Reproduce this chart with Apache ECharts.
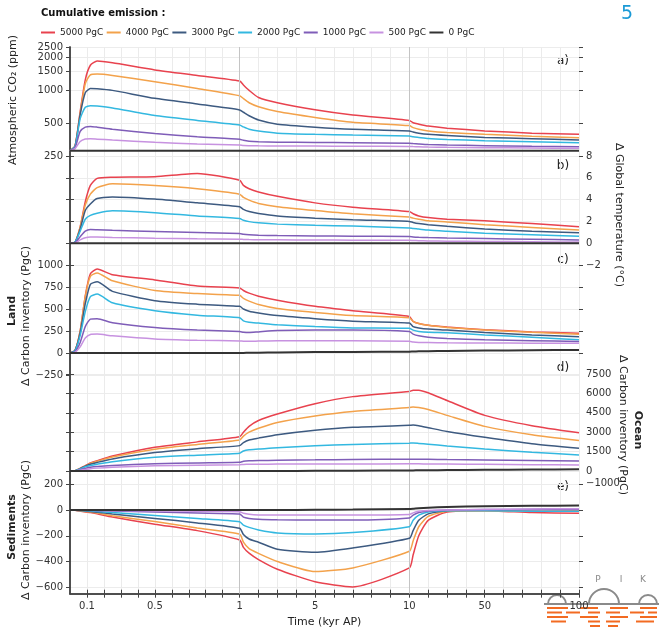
<!DOCTYPE html>
<html>
<head>
<meta charset="utf-8">
<script src="https://cdn.jsdelivr.net/npm/echarts@6/dist/echarts.min.js"></script>
<style>
html, body { margin: 0; padding: 0; background: #fff; }
#chart { width: 659px; height: 627px; }
</style>
</head>
<body>
<div id="chart"></div>
<script>
// time in kyr after present
var times = [0, 0.03, 0.06, 0.09, 0.12, 0.16, 0.25, 0.5, 0.75, 1, 1.2, 1.5, 2, 3, 5, 7, 10, 12, 15, 20, 30, 50, 75, 100];
var names = ['5000 PgC', '4000 PgC', '3000 PgC', '2000 PgC', '1000 PgC', '500 PgC', '0 PgC'];
var colors = ['#e8424e', '#f3a24b', '#3d5a80', '#33b8e0', '#7f5db8', '#c792e0', '#333333'];

var xTicks = [0.1, 0.2, 0.3, 0.4, 0.5, 0.6, 0.7, 0.8, 0.9, 1, 2, 3, 4, 5, 6, 7, 8, 9, 10, 20, 30, 40, 50, 60, 70, 80, 90, 100];
var xLabels = [0.1, 0.5, 1, 5, 10, 50, 100];

// a) atmospheric CO2 (ppm)
var co2_5000 = [280, 310, 640, 1250, 1700, 1860, 1790, 1540, 1370, 1218, 1120, 1000, 860, 770, 665, 595, 530, 505, 490, 470, 450, 425, 405, 395];
var co2_4000 = [280, 310, 620, 1150, 1390, 1410, 1370, 1200, 1040, 893, 840, 770, 708, 640, 565, 510, 475, 455, 440, 425, 410, 395, 380, 368];
var co2_3000 = [280, 308, 600, 950, 1040, 1035, 1000, 845, 750, 662, 630, 585, 535, 490, 460, 440, 425, 415, 405, 395, 385, 370, 360, 350];
var co2_2000 = [280, 305, 550, 700, 724, 718, 690, 587, 530, 481, 462, 440, 423, 405, 395, 389, 382, 375, 370, 362, 355, 345, 338, 331];
var co2_1000 = [280, 300, 420, 460, 467, 460, 440, 402, 375, 356, 348, 342, 338, 335, 333, 331, 328, 325, 322, 318, 315, 311, 307, 304];
var co2_500 = [280, 292, 340, 358, 360, 357, 350, 334, 322, 315, 312, 311, 310, 309, 308, 307, 306, 305, 304, 302, 300, 298, 296, 294];
var co2_0 = [280, 280, 280, 280, 280, 280, 280, 280, 280, 280, 280, 280, 280, 280, 280, 280, 280, 280, 280, 280, 280, 280, 280, 280];

// b) global temperature change (degC)
var temp_5000 = [0, 0.1, 1.5, 3.8, 5.3, 5.95, 6.05, 6.1, 6.4, 5.78, 5.3, 5.0, 4.7, 4.3, 3.7, 3.3, 2.9, 2.7, 2.5, 2.35, 2.2, 2.05, 1.8, 1.5];
var temp_4000 = [0, 0.1, 1.5, 3.5, 4.5, 5.1, 5.45, 5.3, 5.0, 4.5, 4.2, 3.95, 3.65, 3.35, 3.0, 2.7, 2.4, 2.3, 2.2, 2.05, 1.95, 1.7, 1.45, 1.2];
var temp_3000 = [0, 0.1, 1.3, 3.0, 3.6, 4.1, 4.25, 4.05, 3.7, 3.35, 3.1, 2.9, 2.72, 2.5, 2.3, 2.15, 2.0, 1.9, 1.8, 1.7, 1.55, 1.3, 1.1, 0.95];
var temp_2000 = [0, 0.1, 1.1, 2.2, 2.55, 2.75, 2.97, 2.8, 2.5, 2.26, 2.1, 1.98, 1.87, 1.75, 1.65, 1.57, 1.4, 1.35, 1.3, 1.2, 1.1, 0.92, 0.78, 0.64];
var temp_1000 = [0, 0.05, 0.6, 1.1, 1.25, 1.23, 1.18, 1.08, 0.98, 0.89, 0.82, 0.77, 0.73, 0.7, 0.67, 0.64, 0.62, 0.58, 0.55, 0.52, 0.48, 0.42, 0.36, 0.3];
var temp_500 = [0, 0.02, 0.3, 0.5, 0.58, 0.57, 0.53, 0.46, 0.41, 0.37, 0.35, 0.33, 0.32, 0.31, 0.29, 0.28, 0.27, 0.25, 0.23, 0.21, 0.19, 0.16, 0.13, 0.1];
var temp_0 = [0, 0, 0, 0, 0, 0, 0, 0, 0, 0, 0, 0, 0, 0, 0, 0, 0, 0, 0, 0, 0, 0, 0, 0];

// c) land carbon inventory change (PgC)
var land_5000 = [0, 30, 250, 650, 900, 955, 890, 830, 760, 740, 710, 680, 645, 600, 530, 480, 415, 360, 335, 315, 295, 265, 240, 225];
var land_4000 = [0, 30, 250, 640, 870, 910, 820, 710, 675, 655, 620, 590, 550, 505, 460, 425, 400, 360, 335, 315, 290, 262, 235, 213];
var land_3000 = [0, 30, 230, 560, 780, 810, 700, 595, 555, 530, 500, 475, 455, 425, 390, 362, 340, 300, 285, 272, 260, 232, 205, 186];
var land_2000 = [0, 25, 200, 470, 640, 670, 570, 480, 430, 400, 365, 350, 340, 320, 300, 285, 280, 260, 245, 235, 230, 205, 180, 150];
var land_1000 = [0, 15, 120, 300, 385, 390, 345, 290, 260, 243, 235, 232, 240, 255, 262, 262, 245, 215, 195, 180, 165, 150, 140, 130];
var land_500 = [0, 10, 70, 170, 210, 215, 195, 160, 145, 137, 134, 133, 135, 138, 140, 140, 133, 125, 120, 118, 116, 114, 112, 110];
var land_0 = [0, 0, 0, 0, 0, 0, 0, 0, 0, 0, 1, 2, 4, 7, 10, 12, 15, 17, 19, 21, 24, 27, 31, 35];

// d) ocean carbon inventory change (PgC)
var ocean_5000 = [0, 20, 200, 420, 620, 800, 1150, 1830, 2250, 2650, 3000, 3450, 3900, 4400, 5200, 5750, 6150, 6250, 6250, 6050, 5450, 4300, 3500, 2950];
var ocean_4000 = [0, 20, 190, 400, 580, 750, 1080, 1680, 2050, 2400, 2700, 3000, 3300, 3750, 4250, 4600, 4900, 4950, 4900, 4750, 4300, 3450, 2800, 2350];
var ocean_3000 = [0, 18, 180, 370, 520, 660, 930, 1420, 1720, 1960, 2200, 2400, 2540, 2800, 3150, 3380, 3530, 3550, 3500, 3350, 3050, 2600, 2100, 1750];
var ocean_2000 = [0, 15, 160, 320, 420, 520, 720, 1060, 1220, 1370, 1550, 1640, 1690, 1800, 1950, 2050, 2150, 2160, 2130, 2070, 1930, 1700, 1450, 1240];
var ocean_1000 = [0, 10, 100, 200, 290, 350, 420, 560, 620, 670, 750, 785, 805, 830, 860, 890, 910, 915, 910, 900, 880, 850, 810, 780];
var ocean_500 = [0, 5, 60, 120, 180, 220, 280, 400, 450, 490, 505, 515, 525, 530, 540, 545, 550, 550, 550, 545, 535, 520, 490, 460];
var ocean_0 = [0, 0, 0, 0, 0, 0, 0, 0, 0, 0, 0, 0, 0, 0, 10, 20, 40, 45, 50, 60, 70, 90, 110, 130];

// e) sediment carbon inventory change (PgC)
var sed_5000 = [0, -2, -8, -15, -20, -30, -55, -110, -160, -233, -290, -335, -385, -460, -557, -597, -450, -350, -200, -80, -15, -5, -20, -25];
var sed_4000 = [0, -2, -6, -12, -16, -24, -45, -90, -140, -187, -250, -300, -337, -400, -478, -450, -320, -240, -130, -50, -10, -5, -10, -5];
var sed_3000 = [0, -1, -4, -8, -11, -17, -30, -65, -100, -142, -190, -225, -250, -305, -328, -295, -220, -160, -80, -30, -5, 0, 5, 10];
var sed_2000 = [0, -1, -3, -5, -7, -11, -20, -42, -65, -91, -118, -135, -155, -178, -186, -175, -130, -80, -40, -15, -5, -5, -10, -10];
var sed_1000 = [0, 0, -1, -2, -3, -5, -8, -16, -24, -31, -55, -65, -72, -76, -78, -78, -62, -40, -20, -8, 0, 5, 5, 5];
var sed_500 = [0, 0, 0, -1, -1, -2, -4, -7, -10, -13, -25, -33, -38, -39, -39, -39, -35, -22, -10, -3, 0, 5, 8, 10];
var sed_0 = [0, 0, 0, 0, 0, 0, 0, 0, 0, 0, 0, 0, 0, 0, 2, 4, 8, 10, 14, 18, 24, 30, 33, 35];

var panels = [
    [co2_5000, co2_4000, co2_3000, co2_2000, co2_1000, co2_500, co2_0],
    [temp_5000, temp_4000, temp_3000, temp_2000, temp_1000, temp_500, temp_0],
    [land_5000, land_4000, land_3000, land_2000, land_1000, land_500, land_0],
    [ocean_5000, ocean_4000, ocean_3000, ocean_2000, ocean_1000, ocean_500, ocean_0],
    [sed_5000, sed_4000, sed_3000, sed_2000, sed_1000, sed_500, sed_0]
];

// the time axis is piecewise linear: 0-1, 1-10 and 10-100 kyr get equal width
function tx(t) {
    if (t <= 1) return t;
    if (t <= 10) return 1 + (t - 1) / 9;
    return 2 + (t - 10) / 90;
}
function itx(v) {
    if (v <= 1) return v;
    if (v <= 2) return 1 + (v - 1) * 9;
    return 10 + (v - 2) * 90;
}
function num(v) { return v < 0 ? '\u2212' + (-v) : String(v); }

var chart = echarts.init(document.getElementById('chart'));
var FONT = 'DejaVu Sans';
var L = 70, R = 80;
var tickStyle = { color: '#444', width: 1 };
var gridLine = { show: true, lineStyle: { color: '#ececec', width: 1 } };

// panel layout in pixels, derived from each axis range
var grids = [
    { left: L, right: R, top: 47, height: 546.7, outerBoundsMode: 'none' },    // frame
    { left: L, right: R, top: 47, height: 109, outerBoundsMode: 'none' },      // a
    { left: L, right: R, top: 156, height: 109, outerBoundsMode: 'none' },     // b
    { left: L, right: R, top: 243, height: 132, outerBoundsMode: 'none' },     // c
    { left: L, right: R, top: 354.6, height: 129.3, outerBoundsMode: 'none' }, // d
    { left: L, right: R, top: 471.4, height: 122.3, outerBoundsMode: 'none' }  // e
];

var xAxes = [
    {
        gridIndex: 0, type: 'value', min: 0, max: 3, position: 'bottom',
        axisLine: { show: true, lineStyle: { color: '#444', width: 1.5 } },
        axisTick: { show: true, length: 4, lineStyle: tickStyle, customValues: xTicks.map(tx) },
        axisLabel: { show: true, margin: 8, customValues: xLabels.map(tx),
            fontFamily: FONT, fontSize: 10, color: '#333',
            formatter: function (v) { return String(+itx(v).toPrecision(3)); } },
        splitLine: { show: true, lineStyle: { color: '#ebebeb', width: 1 } },
        name: 'Time (kyr AP)', nameLocation: 'middle', nameGap: 22,
        nameTextStyle: { fontFamily: FONT, fontSize: 11, color: '#222' }
    },
    {
        gridIndex: 0, type: 'value', min: 0, max: 3, position: 'top',
        axisLine: { show: true, lineStyle: { color: '#444', width: 1.5 } },
        axisTick: { show: true, length: 4, lineStyle: tickStyle, customValues: xTicks.map(tx) },
        axisLabel: { show: false }, splitLine: { show: false }
    }
];
for (var g = 1; g <= 5; g++) {
    xAxes.push({ gridIndex: g, type: 'value', min: 0, max: 3, show: false });
}

function yAx(grid, pos, min, max, ticks, labels, opts) {
    var o = {
        gridIndex: grid, type: 'value', position: pos, min: min, max: max,
        axisLine: { show: false },
        axisTick: { show: true, length: 4, lineStyle: tickStyle, customValues: ticks },
        axisLabel: labels ? { show: true, margin: 7, customValues: labels, fontFamily: FONT, fontSize: 10, color: '#333', formatter: num } : { show: false },
        splitLine: { show: false }
    };
    for (var k in opts) o[k] = opts[k];
    return o;
}

var yAxes = [
    { gridIndex: 0, type: 'value', min: 0, max: 1, position: 'left', axisLine: { show: true, lineStyle: { color: '#444', width: 1.5 } }, axisTick: { show: false }, axisLabel: { show: false }, splitLine: { show: false } },
    { gridIndex: 0, type: 'value', min: 0, max: 1, position: 'right', axisLine: { show: true, lineStyle: { color: '#444', width: 1.5 } }, axisTick: { show: false }, axisLabel: { show: false }, splitLine: { show: false } },
    // a
    yAx(1, 'left', 250, 2500, [250, 500, 1000, 1500, 2000, 2500], [250, 500, 1000, 1500, 2000, 2500], { type: 'log', logBase: 10, splitLine: gridLine }),
    yAx(1, 'right', 250, 2500, [250, 500, 1000, 1500, 2000, 2500], null, { type: 'log', logBase: 10 }),
    // b
    yAx(2, 'right', -2, 8, [-2, 0, 2, 4, 6, 8], [-2, 0, 2, 4, 6, 8]),
    yAx(2, 'left', -2, 8, [0, 2, 4, 6, 8], null, { splitLine: gridLine }),
    // c
    yAx(3, 'left', -250, 1250, [-250, 0, 250, 500, 750, 1000], [-250, 0, 250, 500, 750, 1000], { splitLine: gridLine }),
    yAx(3, 'right', -250, 1250, [0, 250, 500, 750, 1000], null),
    // d
    yAx(4, 'right', -1000, 9000, [-1000, 0, 1500, 3000, 4500, 6000, 7500], [-1000, 0, 1500, 3000, 4500, 6000, 7500]),
    yAx(4, 'left', -1000, 9000, [0, 1500, 3000, 4500, 6000, 7500], null, { splitLine: gridLine }),
    // e
    yAx(5, 'left', -650, 300, [-600, -400, -200, 0, 200], [-600, -400, -200, 0, 200], { splitLine: gridLine }),
    yAx(5, 'right', -650, 300, [-600, -400, -200, 0, 200], null)
];
var panelX = [2, 3, 4, 5, 6];
var panelY = [2, 4, 6, 8, 10];

var series = [{
    type: 'line', xAxisIndex: 0, yAxisIndex: 0, data: [[0, 0.5]], symbol: 'none', silent: true,
    lineStyle: { width: 0 },
    markLine: { silent: true, symbol: 'none', label: { show: false },
        lineStyle: { color: '#c4c4c4', width: 1, type: 'solid' },
        data: [{ xAxis: tx(1) }, { xAxis: tx(10) }] }
}];
panels.forEach(function (set, p) {
    set.forEach(function (vals, i) {
        series.push({
            name: names[i], type: 'line', xAxisIndex: panelX[p], yAxisIndex: panelY[p],
            data: times.map(function (t, k) { return [tx(t), vals[k]]; }),
            symbol: 'none', smooth: 0.2, color: colors[i],
            lineStyle: { width: i === 6 ? 2 : 1.5, color: colors[i] },
            z: 3 + i
        });
    });
});

function vtext(txt, x, y, rot, bold) {
    return { type: 'text', x: x, y: y, rotation: rot,
        style: { text: txt, font: (bold ? 'bold ' : '') + '11px "DejaVu Sans"',
            fill: '#222', align: 'center', verticalAlign: 'middle' } };
}
function ptext(txt, x, y) {
    return { type: 'text', x: x, y: y,
        style: { text: txt, font: '12px "DejaVu Sans"', fill: '#222', align: 'center', verticalAlign: 'middle' } };
}
var up = Math.PI / 2, down = -Math.PI / 2;

// PIK logo, bottom right
var LOGO_GREY = '#8a8a8a', LOGO_ORANGE = '#f26b22';
var logo = [
    { type: 'text', x: 598, y: 580, style: { text: 'P', font: '9px "DejaVu Sans"', fill: LOGO_GREY, align: 'center', verticalAlign: 'middle' } },
    { type: 'text', x: 621, y: 580, style: { text: 'I', font: '9px "DejaVu Sans"', fill: LOGO_GREY, align: 'center', verticalAlign: 'middle' } },
    { type: 'text', x: 643, y: 580, style: { text: 'K', font: '9px "DejaVu Sans"', fill: LOGO_GREY, align: 'center', verticalAlign: 'middle' } },
    { type: 'arc', shape: { cx: 557, cy: 604, r: 9, startAngle: Math.PI, endAngle: 2 * Math.PI }, style: { stroke: LOGO_GREY, lineWidth: 2, fill: null } },
    { type: 'arc', shape: { cx: 604, cy: 604, r: 15, startAngle: Math.PI, endAngle: 2 * Math.PI }, style: { stroke: LOGO_GREY, lineWidth: 2, fill: null } },
    { type: 'arc', shape: { cx: 648, cy: 604, r: 9, startAngle: Math.PI, endAngle: 2 * Math.PI }, style: { stroke: LOGO_GREY, lineWidth: 2, fill: null } },
    { type: 'line', shape: { x1: 544, y1: 604, x2: 659, y2: 604 }, style: { stroke: LOGO_GREY, lineWidth: 2 } }
];
var dashRows = [
    [[547, 568], [580, 598], [610, 628], [640, 657]],
    [[547, 562], [566, 580], [588, 600], [606, 620], [630, 644], [648, 657]],
    [[547, 568], [580, 598], [610, 628], [640, 657]],
    [[551, 566], [588, 600], [606, 620], [636, 654]],
    [[590, 600], [608, 618]]
];
dashRows.forEach(function (row, r) {
    row.forEach(function (seg) {
        logo.push({ type: 'line', shape: { x1: seg[0], y1: 608 + r * 4.5, x2: seg[1], y2: 608 + r * 4.5 },
            style: { stroke: LOGO_ORANGE, lineWidth: 2 } });
    });
});

var option = {
    animation: false,
    backgroundColor: '#fff',
    title: { text: 'Cumulative emission :', left: 36, top: 3,
        textStyle: { fontFamily: FONT, fontSize: 10, fontWeight: 'bold', color: '#111' } },
    legend: {
        data: names, left: 36, top: 23, icon: 'rect', itemWidth: 14, itemHeight: 2, itemGap: 3.5,
        textStyle: { fontFamily: FONT, fontSize: 9, color: '#222' }
    },
    grid: grids,
    xAxis: xAxes,
    yAxis: yAxes,
    series: series,
    graphic: [
        { type: 'text', x: 627, y: 14, style: { text: '5', font: '19px "DejaVu Sans"', fill: '#1b9ad6', align: 'center', verticalAlign: 'middle' } },
        ptext('a)', 563, 61), ptext('b)', 563, 166), ptext('c)', 563, 260), ptext('d)', 563, 368), ptext('e)', 563, 487),
        vtext('Atmospheric CO\u2082 (ppm)', 13, 100, up, false),
        vtext('Land', 12, 311, up, true),
        vtext('\u0394 Carbon inventory (PgC)', 26, 316, up, false),
        vtext('Sediments', 12, 527, up, true),
        vtext('\u0394 Carbon inventory (PgC)', 26, 530, up, false),
        vtext('\u0394 Global temperature (\u00b0C)', 619, 215, down, false),
        vtext('Ocean', 638, 430, down, true),
        vtext('\u0394 Carbon inventory (PgC)', 623, 425, down, false)
    ].concat(logo)
};
chart.setOption(option);
</script>
</body>
</html>
